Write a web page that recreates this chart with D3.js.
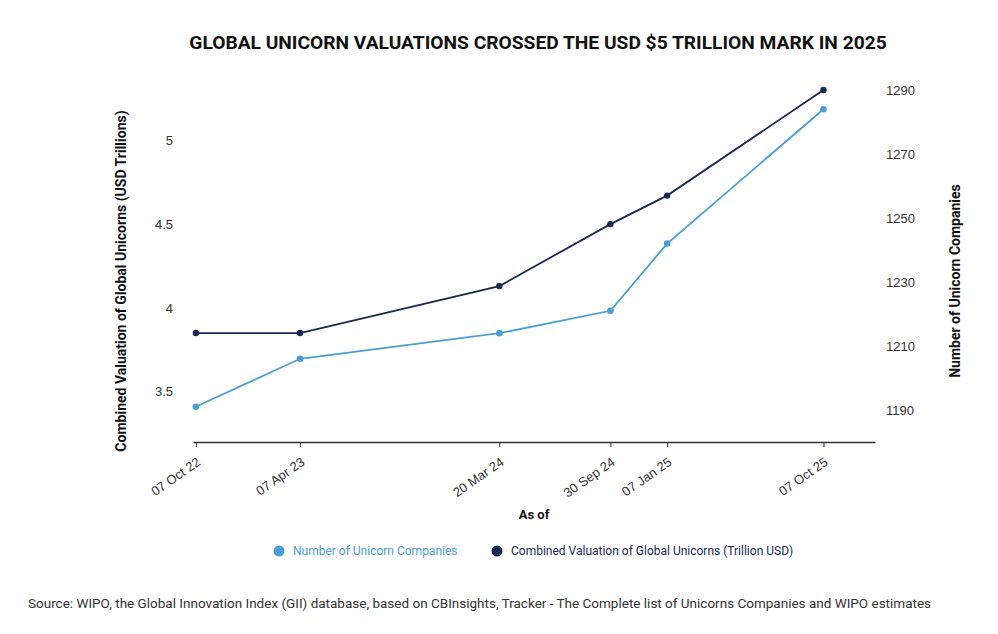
<!DOCTYPE html>
<html>
    <head>
        <title>Global unicorn valuations</title>
        <style>
            body { margin: 0; background: #fff; }
            .tick text { font-family: "Liberation Sans", Arial, sans-serif; font-size: 13px; fill: #333; }
        </style>
    </head>

    <body>
        <div id="chart"></div>

        <script src="https://cdn.jsdelivr.net/npm/d3@7/dist/d3.min.js"></script>
        <script>
            // data
            var dates = ["2022-10-07", "2023-04-07", "2024-03-20", "2024-09-30", "2025-01-07", "2025-10-07"];
            var dateLabels = ["07 Oct 22", "07 Apr 23", "20 Mar 24", "30 Sep 24", "07 Jan 25", "07 Oct 25"];
            var valuation = [3.85, 3.85, 4.13, 4.50, 4.67, 5.30];
            var unicornCount = [1191, 1206, 1214, 1221, 1242, 1284];
            var leftTicks = [3.5, 4, 4.5, 5];
            var rightTicks = [1190, 1210, 1230, 1250, 1270, 1290];

            var navy = "#172a52", blue = "#4a9fd6";
            var parse = d3.timeParse("%Y-%m-%d");
            var when = dates.map(parse);

            var svg = d3.select("#chart").append("svg")
                .attr("width", 998)
                .attr("height", 634);

            var x = d3.scaleTime()
                .domain([parse("2022-10-02"), parse("2026-01-05")])
                .range([193, 875]);
            var yL = d3.scaleLinear().domain([3.2, 5.3]).range([442, 90]);
            var yR = d3.scaleLinear().domain([1180, 1290]).range([442, 90]);

            // title
            svg.append("text")
                .attr("x", 538).attr("y", 49)
                .attr("text-anchor", "middle")
                .style("font-family", "Roboto, sans-serif")
                .style("font-weight", "bold")
                .style("font-size", "19.2px")
                .style("fill", "#111")
                .text("GLOBAL UNICORN VALUATIONS CROSSED THE USD $5 TRILLION MARK IN 2025");

            // x axis
            var xAxis = svg.append("g")
                .attr("transform", "translate(0,442)")
                .call(d3.axisBottom(x)
                    .tickValues(when)
                    .tickFormat(function(d, i) { return dateLabels[i]; })
                    .tickSize(5)
                    .tickSizeOuter(0));
            xAxis.select(".domain").attr("stroke", "#333").attr("stroke-width", 1.5);
            xAxis.selectAll(".tick line").attr("stroke", "#333");
            xAxis.selectAll(".tick text")
                .attr("y", 0).attr("dy", 0)
                .attr("text-anchor", "end")
                .attr("transform", "translate(5,22) rotate(-35)");

            // y axes, no lines
            var left = svg.append("g")
                .attr("transform", "translate(193,0)")
                .call(d3.axisLeft(yL).tickValues(leftTicks).tickFormat(String).tickSize(0).tickPadding(20));
            left.select(".domain").remove();

            var right = svg.append("g")
                .attr("transform", "translate(875,0)")
                .call(d3.axisRight(yR).tickValues(rightTicks).tickFormat(String).tickSize(0).tickPadding(11));
            right.select(".domain").remove();

            // axis titles
            function axisTitle(tx, ty, rot, label, size) {
                svg.append("text")
                    .attr("transform", "translate(" + tx + "," + ty + ") rotate(" + rot + ")")
                    .attr("text-anchor", "middle")
                    .attr("dy", "0.35em")
                    .style("font-family", "Roboto, sans-serif")
                    .style("font-weight", "bold")
                    .style("font-size", size + "px")
                    .style("fill", "#111")
                    .text(label);
            }
            axisTitle(121, 281, -90, "Combined Valuation of Global Unicorns (USD Trillions)", 14);
            axisTitle(955, 281, -90, "Number of Unicorn Companies", 14);
            axisTitle(534, 514, 0, "As of", 13);

            // lines
            var countLine = d3.line()
                .x(function(d, i) { return x(when[i]); })
                .y(function(d) { return yR(d); });
            var valueLine = d3.line()
                .x(function(d, i) { return x(when[i]); })
                .y(function(d) { return yL(d); });

            svg.append("path")
                .datum(unicornCount)
                .attr("d", countLine)
                .attr("fill", "none")
                .attr("stroke", blue)
                .attr("stroke-width", 1.8);
            svg.selectAll(".count-dot")
                .data(unicornCount)
                .enter().append("circle")
                    .attr("class", "count-dot")
                    .attr("cx", function(d, i) { return x(when[i]); })
                    .attr("cy", function(d) { return yR(d); })
                    .attr("r", 3.3)
                    .style("fill", blue);

            svg.append("path")
                .datum(valuation)
                .attr("d", valueLine)
                .attr("fill", "none")
                .attr("stroke", navy)
                .attr("stroke-width", 1.8);
            svg.selectAll(".value-dot")
                .data(valuation)
                .enter().append("circle")
                    .attr("class", "value-dot")
                    .attr("cx", function(d, i) { return x(when[i]); })
                    .attr("cy", function(d) { return yL(d); })
                    .attr("r", 3.2)
                    .style("fill", navy);

            // legend
            var legend = [
                { label: "Number of Unicorn Companies", color: blue, x: 279 },
                { label: "Combined Valuation of Global Unicorns (Trillion USD)", color: navy, x: 497 }
            ];
            var lg = svg.selectAll(".legend")
                .data(legend)
                .enter().append("g")
                    .attr("class", "legend")
                    .attr("transform", function(d) { return "translate(" + d.x + ",551)"; });
            lg.append("circle").attr("r", 5.5).style("fill", function(d) { return d.color; });
            lg.append("text")
                .attr("x", 14).attr("dy", "0.35em")
                .style("font-family", "Roboto, sans-serif")
                .style("font-size", "12px")
                .style("fill", function(d) { return d.color; })
                .text(function(d) { return d.label; });

            // source
            svg.append("text")
                .attr("x", 28).attr("y", 608)
                .style("font-family", "Roboto, sans-serif")
                .style("font-size", "13.5px")
                .style("fill", "#333")
                .text("Source: WIPO, the Global Innovation Index (GII) database, based on CBInsights, Tracker - The Complete list of Unicorns Companies and WIPO estimates");
        </script>
    </body>
</html>
